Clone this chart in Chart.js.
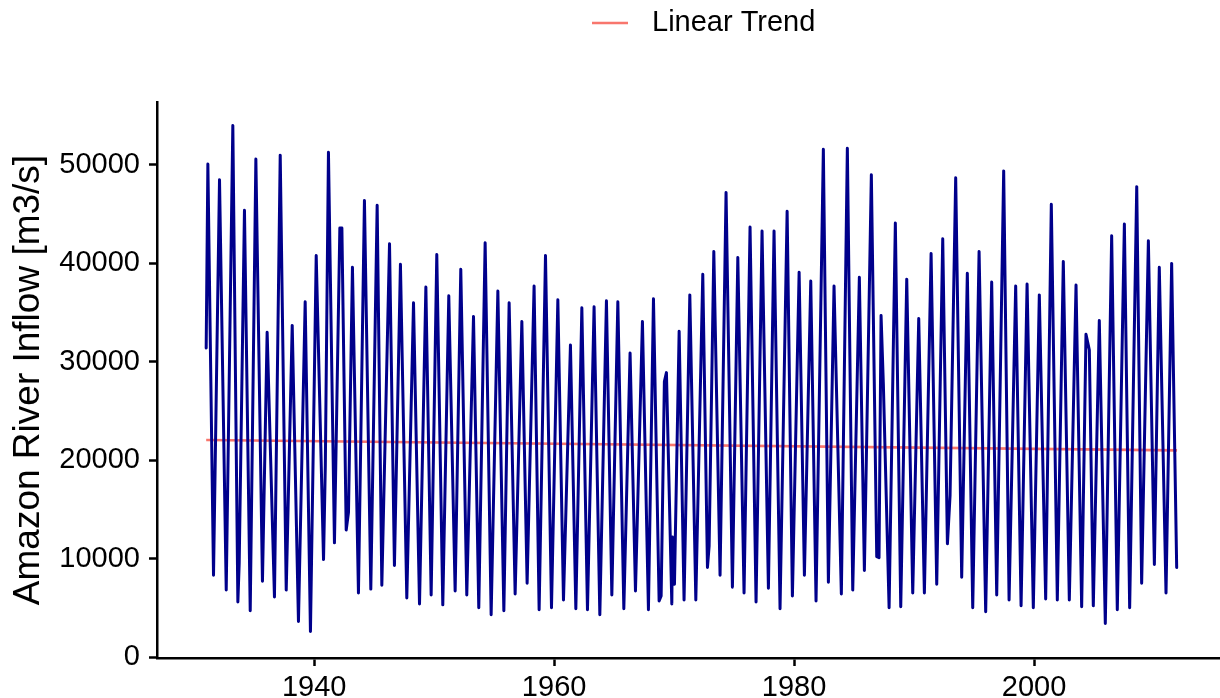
<!DOCTYPE html>
<html lang="en">
<head>
    <meta charset="UTF-8">
    <title>Amazon River Inflow</title>
    <script src="https://cdn.jsdelivr.net/npm/chart.js"></script>
    <style>
        body {
            margin: 0;
            background: #fff;
        }

        .chart-box {
            width: 1220px;
            height: 698px;
        }
    </style>
</head>
<body>

<div class="chart-box">
    <canvas id="flowChart"></canvas>
</div>

<script>
    // monthly inflow: yearly peaks, troughs and a few shoulders
    const flowYears = [
        1931.00, 1931.14, 1931.61, 1932.11, 1932.67, 1933.22, 1933.64, 1933.75, 1934.19, 1934.67,
        1935.14, 1935.69, 1936.08, 1936.69, 1937.17, 1937.67, 1938.17, 1938.69, 1939.25, 1939.69,
        1940.17, 1940.78, 1940.93, 1941.19, 1941.69, 1942.14, 1942.31, 1942.67, 1942.86, 1943.19,
        1943.69, 1944.19, 1944.72, 1945.25, 1945.64, 1946.28, 1946.69, 1947.19, 1947.72, 1948.28,
        1948.78, 1949.31, 1949.75, 1950.22, 1950.72, 1951.22, 1951.75, 1952.22, 1952.72, 1953.28,
        1953.72, 1954.25, 1954.75, 1955.31, 1955.81, 1956.25, 1956.75, 1957.31, 1957.75, 1958.33,
        1958.75, 1959.28, 1959.78, 1960.31, 1960.78, 1961.36, 1961.81, 1962.31, 1962.78, 1963.33,
        1963.81, 1964.36, 1964.81, 1965.31, 1965.81, 1966.33, 1966.78, 1967.36, 1967.86, 1968.28,
        1968.75, 1968.92, 1969.19, 1969.36, 1969.81, 1969.86, 1970.03, 1970.42, 1970.83, 1971.31,
        1971.81, 1972.39, 1972.78, 1972.92, 1973.31, 1973.83, 1974.33, 1974.86, 1975.31, 1975.83,
        1976.33, 1976.83, 1977.33, 1977.86, 1978.33, 1978.83, 1979.42, 1979.86, 1980.42, 1980.86,
        1981.39, 1981.83, 1982.44, 1982.86, 1983.33, 1983.94, 1984.44, 1984.89, 1985.44, 1985.86,
        1986.44, 1986.89, 1987.08, 1987.25, 1987.44, 1987.92, 1988.44, 1988.89, 1989.39, 1989.89,
        1990.39, 1990.86, 1991.42, 1991.89, 1992.39, 1992.78, 1993.00, 1993.47, 1993.97, 1994.44,
        1994.89, 1995.42, 1995.97, 1996.47, 1996.89, 1997.47, 1997.92, 1998.47, 1998.92, 1999.42,
        1999.94, 2000.44, 2000.97, 2001.44, 2001.94, 2002.44, 2002.94, 2003.50, 2003.97, 2004.33,
        2004.61, 2004.94, 2005.44, 2005.94, 2006.47, 2006.94, 2007.53, 2007.97, 2008.56, 2008.97,
        2009.53, 2010.03, 2010.44, 2011.00, 2011.47, 2011.89
    ];

    const flowValues = [
        31400, 50100, 8300, 48500, 6800, 54000, 5600, 9500, 45400, 4700,
        50600, 7700, 33000, 6100, 51000, 6800, 33700, 3600, 36100, 2600,
        40800, 9900, 19500, 51300, 11600, 43600, 43600, 12900, 14700, 39600,
        6500, 46400, 6900, 45900, 7300, 42000, 9300, 39900, 6000, 36000,
        5400, 37600, 6300, 40900, 5300, 36700, 6700, 39400, 6300, 34600,
        5000, 42100, 4300, 37200, 4700, 36000, 6400, 34100, 7500, 37700,
        4800, 40800, 5000, 36300, 5800, 31700, 4900, 35500, 4800, 35600,
        4300, 36200, 6300, 36100, 4900, 30900, 6700, 34100, 4800, 36400,
        5700, 6200, 28000, 28900, 5400, 12200, 7400, 33100, 5800, 36800,
        5800, 38900, 9100, 11300, 41200, 8300, 47200, 7100, 40600, 6500,
        43700, 5600, 43300, 7000, 43300, 4900, 45300, 6200, 39100, 8300,
        38200, 5700, 51600, 7600, 37700, 6400, 51700, 6800, 38600, 8800,
        49000, 10200, 10100, 34700, 27800, 5000, 44100, 5100, 38400, 6500,
        34400, 6500, 41000, 7400, 42500, 11500, 16400, 48700, 8100, 39000,
        5000, 41200, 4600, 38100, 6300, 49400, 5800, 37700, 5200, 37900,
        5000, 36800, 5900, 46000, 5800, 40200, 5800, 37800, 5100, 32800,
        31200, 5200, 34200, 3400, 42800, 4800, 44000, 5000, 47800, 7500,
        42300, 9400, 39600, 6500, 40000, 9100
    ];

    // fitted trend, start and end of the record
    const trendYears = [1931.00, 2011.92];
    const trendValues = [22050, 21000];

    const xTicks = [1940, 1960, 1980, 2000];
    const yTicks = [0, 10000, 20000, 30000, 40000, 50000];

    const fontFamily = "'Liberation Sans', Arial, Helvetica, sans-serif";

    const toPoints = (xs, ys) => xs.map((x, i) => ({ x: x, y: ys[i] }));

    // ggplot-style legend above the panel, only the trend is listed
    const topLegend = {
        id: 'topLegend',
        afterDraw(chart) {
            const ctx = chart.ctx;
            const ds = chart.data.datasets[1];
            ctx.save();
            ctx.strokeStyle = ds.borderColor;
            ctx.lineWidth = 2.6;
            ctx.beginPath();
            ctx.moveTo(592, 23);
            ctx.lineTo(628, 23);
            ctx.stroke();
            ctx.fillStyle = '#000';
            ctx.font = '29px ' + fontFamily;
            ctx.textBaseline = 'middle';
            ctx.fillText(ds.label, 652, 23);
            ctx.restore();
        }
    };

    const ctx = document.getElementById('flowChart').getContext('2d');
    new Chart(ctx, {
        type: 'line',
        data: {
            datasets: [{
                label: 'Amazon River Inflow',
                data: toPoints(flowYears, flowValues),
                borderColor: '#00008B',
                borderWidth: 3,
                borderJoinStyle: 'round',
                borderCapStyle: 'round',
                pointRadius: 0,
                tension: 0
            }, {
                label: 'Linear Trend',
                data: toPoints(trendYears, trendValues),
                borderColor: '#F8766D',
                borderWidth: 2.6,
                pointRadius: 0,
                tension: 0
            }]
        },
        options: {
            responsive: true,
            maintainAspectRatio: false,
            animation: false,
            layout: {
                padding: { top: 102, right: 0, bottom: 0, left: 0 }
            },
            plugins: {
                legend: { display: false },
                tooltip: { enabled: false }
            },
            scales: {
                x: {
                    type: 'linear',
                    min: 1926.9,
                    max: 2015.5,
                    afterBuildTicks: scale => {
                        scale.ticks = xTicks.map(v => ({ value: v }));
                    },
                    afterFit: scale => {
                        scale.height = 40;
                    },
                    ticks: {
                        color: '#000',
                        font: { family: fontFamily, size: 29 },
                        padding: 5,
                        maxRotation: 0,
                        callback: v => String(v)
                    },
                    grid: {
                        drawOnChartArea: false,
                        drawTicks: true,
                        tickLength: 8,
                        tickColor: '#000',
                        tickWidth: 2.5
                    },
                    border: { display: true, color: '#000', width: 2.5 }
                },
                y: {
                    min: -100,
                    max: 56400,
                    afterBuildTicks: scale => {
                        scale.ticks = yTicks.map(v => ({ value: v }));
                    },
                    afterFit: scale => {
                        scale.width = 157;
                    },
                    ticks: {
                        color: '#000',
                        font: { family: fontFamily, size: 29 },
                        padding: 9,
                        callback: v => String(v)
                    },
                    grid: {
                        drawOnChartArea: false,
                        drawTicks: true,
                        tickLength: 8,
                        tickColor: '#000',
                        tickWidth: 2.5
                    },
                    border: { display: true, color: '#000', width: 2.5 },
                    title: {
                        display: true,
                        text: 'Amazon River Inflow [m3/s]',
                        color: '#000',
                        font: { family: fontFamily, size: 37 },
                        padding: { top: 7, bottom: 0 }
                    }
                }
            }
        },
        plugins: [topLegend]
    });
</script>

</body>
</html>
